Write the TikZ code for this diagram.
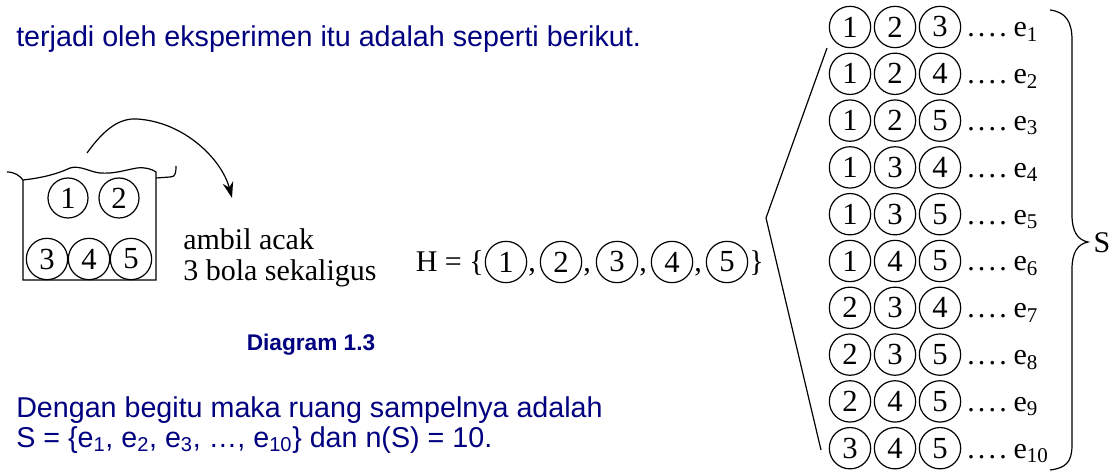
\documentclass[tikz,border=0pt]{standalone}
\usepackage{fontspec}
\setmainfont{Liberation Serif}
\newfontfamily\arial{Liberation Sans}
\usetikzlibrary{arrows.meta}
\definecolor{navy}{RGB}{0,0,128}
\begin{document}
\begin{tikzpicture}[x=0.75pt,y=-0.75pt,
  ball/.style={circle,draw,line width=0.9pt,minimum size=31pt,inner sep=0pt,font=\fontsize{23}{23}\selectfont},
  tms/.style={font=\fontsize{22.5}{27}\selectfont,inner sep=0pt},
  body/.style={font=\arial\fontsize{21.5}{25}\selectfont,text=navy,inner sep=0pt},
  ln/.style={line width=0.9pt}]
\useasboundingbox (0,0) rectangle (1120,473);
% top text
\node[body,anchor=base west] (t1) at (16,47) {terjadi oleh eksperimen itu adalah seperti berikut.};
% bucket
\draw[ln] (7,172) .. controls (15,172) and (20,176) .. (23,180) .. controls (40,178) and (55,175) .. (70,168) .. controls (80,165) and (90,172) .. (100,173) .. controls (115,174) and (125,170) .. (137,168) .. controls (145,167) and (152,169) .. (156,172) -- (156,280) -- (23,280) -- (23,180);
\draw[ln] (156,178) -- (170,177) .. controls (175,177) and (176,174) .. (176,166);
\node[ball,minimum size=30pt] (b1) at (68,198) {1};
\node[ball,minimum size=30pt] (b2) at (119,198) {2};
\node[ball] (b3) at (47,259) {3};
\node[ball] (b4) at (89,259) {4};
\node[ball] (b5) at (131,259) {5};
% arrow
\coordinate (as) at (87,153);
\coordinate (ae) at (232,198);
\draw[ln,-{Stealth[length=12pt,width=8pt]}] (as) .. controls (105,128) and (120,118) .. (137,119) .. controls (185,122) and (222,160) .. (ae);
% ambil acak
\node[tms,anchor=base west] (amb) at (183,250) {ambil acak};
\node[tms,anchor=base west] (bola) at (183,281) {3 bola sekaligus};
% H set
\node[tms,anchor=base east] (H) at (484,272) {H = \{};
\foreach \x [count=\i] in {506,561,617,672,727} {
  \node[ball] (h\i) at (\x,262) {\i};
}
\foreach \x [count=\i] in {528,583,639,694} {
  \node[tms,anchor=base west] (c\i) at (\x,272) {,};
}
\node[tms,anchor=base west] (hc) at (749,272) {\}};
% right list
\foreach \a/\b/\c [count=\i] in {1/2/3,1/2/4,1/2/5,1/3/4,1/3/5,1/4/5,2/3/4,2/3/5,2/4/5,3/4/5} {
  \pgfmathsetmacro\yy{27+(\i-1)*46.8}
  \node[ball] (r\i a) at (850,\yy) {\a};
  \node[ball] (r\i b) at (895,\yy) {\b};
  \node[ball] (r\i c) at (940,\yy) {\c};
  \node[tms,anchor=base west] (d\i) at (967,\yy+10) {.\kern2.4pt.\kern2.4pt.\kern2.4pt.\kern5pt e\textsubscript{\i}};
}
% angle bracket
\coordinate (k1) at (827,48);
\coordinate (k2) at (766,218);
\coordinate (k3) at (821,450);
\draw[ln] (k1) -- (k2) -- (k3);
% brace
\draw[ln] (1050,10) .. controls (1066,12) and (1072,22) .. (1072,40) -- (1072,215) .. controls (1072,232) and (1078,240) .. (1088,242) .. controls (1078,244) and (1072,252) .. (1072,269) -- (1072,445) .. controls (1072,462) and (1066,468) .. (1050,470);
\node[tms] (S) at (1102,243) {S};
% caption and bottom text
\node[body,font=\arial\bfseries\fontsize{17}{20}\selectfont,anchor=base] (cap) at (311,351) {Diagram 1.3};
\node[body,anchor=base west] (t2) at (16,418) {Dengan begitu maka ruang sampelnya adalah};
\node[body,anchor=base west] (t3) at (16,447) {S = \{e\textsubscript{1}, e\textsubscript{2}, e\textsubscript{3}, …, e\textsubscript{10}\} dan n(S) = 10.};
\end{tikzpicture}
\end{document}
